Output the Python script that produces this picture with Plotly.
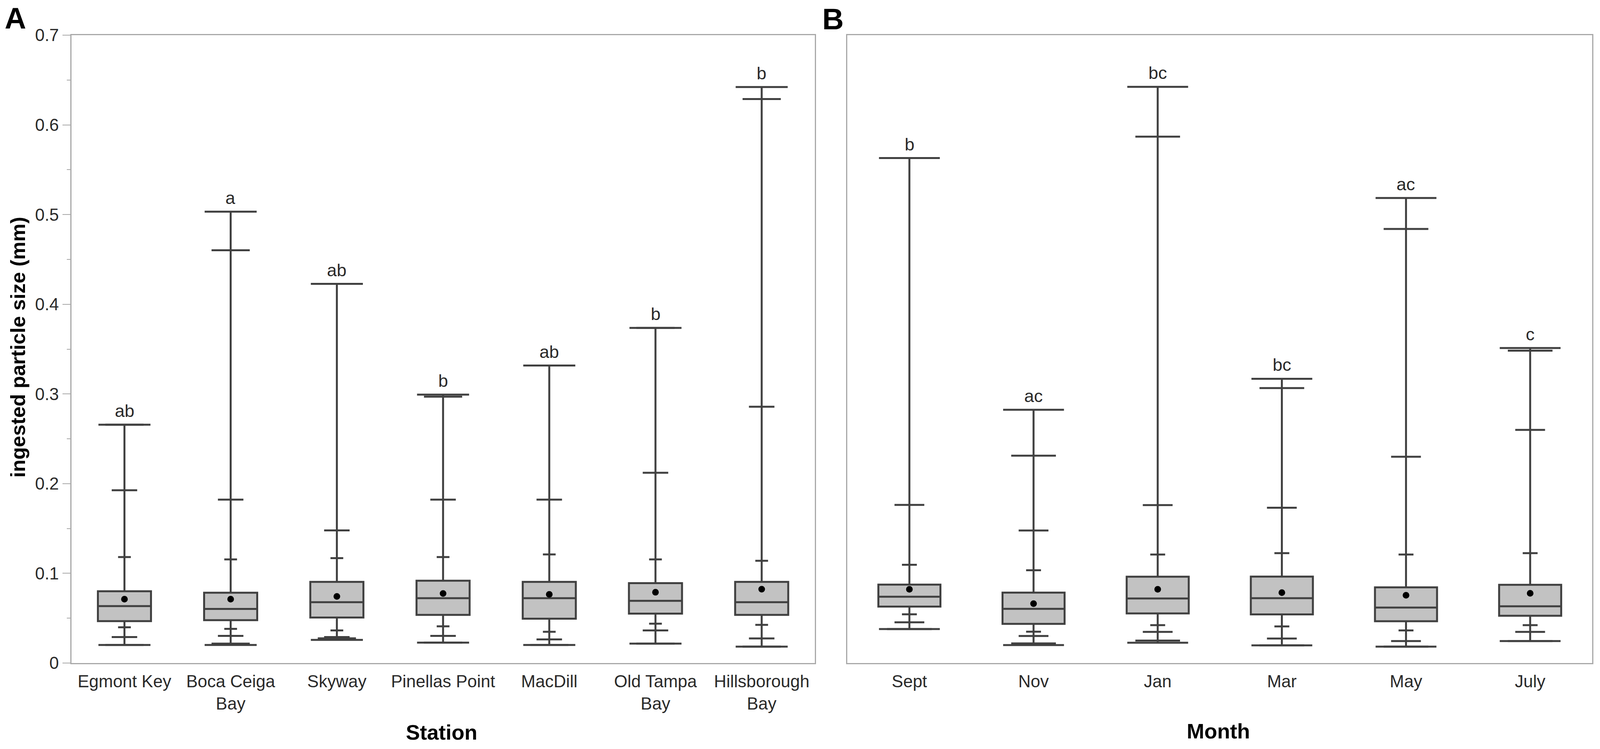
import plotly.graph_objects as go

# ---- data (mm) ----
stations = ['Egmont Key', 'Boca Ceiga<br>Bay', 'Skyway', 'Pinellas Point', 'MacDill',
            'Old Tampa<br>Bay', 'Hillsborough<br>Bay']
st_min = [0.0201, 0.0201, 0.0258, 0.0228, 0.0201, 0.0217, 0.0183]
st_q005 = [0.0201, 0.0217, 0.0275, 0.0228, 0.0201, 0.0217, 0.0183]
st_q025 = [0.0290, 0.0303, 0.0290, 0.0303, 0.0263, 0.0364, 0.0274]
st_q10 = [0.0399, 0.0381, 0.0364, 0.0410, 0.0349, 0.0439, 0.0426]
st_q25 = [0.0467, 0.0478, 0.0507, 0.0537, 0.0494, 0.0551, 0.0537]
st_med = [0.0635, 0.0603, 0.0678, 0.0723, 0.0723, 0.0694, 0.0678]
st_q75 = [0.0800, 0.0784, 0.0905, 0.0918, 0.0905, 0.0891, 0.0905]
st_q90 = [0.1182, 0.1155, 0.1170, 0.1182, 0.1211, 0.1155, 0.1140]
st_q975 = [0.1926, 0.1822, 0.1479, 0.1822, 0.1822, 0.2121, 0.2858]
st_q995 = [0.2657, 0.4602, 0.4227, 0.2970, 0.3317, 0.3736, 0.6288]
st_max = [0.2657, 0.5032, 0.4227, 0.2992, 0.3317, 0.3736, 0.6422]
st_mean = [0.0712, 0.0712, 0.0743, 0.0775, 0.0766, 0.0789, 0.0823]
st_letters = ['ab', 'a', 'ab', 'b', 'ab', 'b', 'b']

months = ['Sept', 'Nov', 'Jan', 'Mar', 'May', 'July']
mo_min = [0.0379, 0.0200, 0.0226, 0.0197, 0.0183, 0.0245]
mo_q005 = [0.0379, 0.0219, 0.0250, 0.0197, 0.0183, 0.0245]
mo_q025 = [0.0454, 0.0302, 0.0347, 0.0273, 0.0245, 0.0347]
mo_q10 = [0.0543, 0.0350, 0.0422, 0.0408, 0.0364, 0.0422]
mo_q25 = [0.0629, 0.0437, 0.0553, 0.0542, 0.0466, 0.0527]
mo_med = [0.0739, 0.0604, 0.0720, 0.0723, 0.0618, 0.0633]
mo_q75 = [0.0875, 0.0785, 0.0963, 0.0964, 0.0844, 0.0872]
mo_q90 = [0.1095, 0.1034, 0.1210, 0.1225, 0.1210, 0.1225]
mo_q975 = [0.1763, 0.1478, 0.1761, 0.1732, 0.2300, 0.2599]
mo_q995 = [0.5630, 0.2312, 0.5869, 0.3066, 0.4839, 0.3483]
mo_max = [0.5630, 0.2824, 0.6424, 0.3169, 0.5185, 0.3512]
mo_mean = [0.0822, 0.0662, 0.0822, 0.0785, 0.0756, 0.0778]
mo_letters = ['b', 'ac', 'bc', 'bc', 'ac', 'c']

# reference canvas, used only to turn pixel positions into paper fractions
W, H = 4328, 1917
LINE = '#404040'
AXIS = '#a8a8a8'
TXT = '#2a2a2a'
TICK_FONT = dict(family='Liberation Sans, Arial', size=44, color=TXT)
TITLE_FONT = dict(family='Liberation Sans, Arial', size=54, color='black')

fig = go.Figure()


def add_panel(xa, ya, q_min, q005, q025, q10, q25, med, q75, q90, q975, q995, q_max, mean, letters):
    n = len(med)
    pos = list(range(n))
    # box + whiskers
    fig.add_trace(go.Box(
        x=pos, q1=q25, median=med, q3=q75, lowerfence=q_min, upperfence=q_max,
        width=0.5, whiskerwidth=0, fillcolor='#c2c2c2',
        line=dict(color=LINE, width=5), boxpoints=False, hoverinfo='skip',
        xaxis=xa, yaxis=ya, showlegend=False))
    # quantile caps (full, 3/4, 1/2, 1/4 of box width)
    cx, cy = [], []
    for i in pos:
        for vals, half in ((q_min, 0.245), (q_max, 0.245), (q005, 0.18), (q995, 0.18),
                           (q025, 0.12), (q975, 0.12), (q10, 0.06), (q90, 0.06)):
            cx += [i - half, i + half, None]
            cy += [vals[i], vals[i], None]
    fig.add_trace(go.Scatter(x=cx, y=cy, mode='lines', line=dict(color=LINE, width=5),
                             hoverinfo='skip', xaxis=xa, yaxis=ya, showlegend=False))
    # means
    fig.add_trace(go.Scatter(x=pos, y=mean, mode='markers',
                             marker=dict(color='black', size=17),
                             xaxis=xa, yaxis=ya, showlegend=False))
    # significance letters
    for i in pos:
        fig.add_annotation(x=i, y=q_max[i], xref=xa, yref=ya, text=letters[i],
                           showarrow=False, yanchor='bottom', yshift=8,
                           font=dict(family='Liberation Sans, Arial', size=45, color=TXT))


add_panel('x', 'y', st_min, st_q005, st_q025, st_q10, st_q25, st_med, st_q75, st_q90,
          st_q975, st_q995, st_max, st_mean, st_letters)
add_panel('x2', 'y2', mo_min, mo_q005, mo_q025, mo_q10, mo_q25, mo_med, mo_q75, mo_q90,
          mo_q975, mo_q995, mo_max, mo_mean, mo_letters)

ydom = [(H - 1697) / H, (H - 90) / H]
common_x = dict(showline=True, linecolor=AXIS, linewidth=3, mirror=True, showgrid=False,
                zeroline=False, ticks='', tickfont=TICK_FONT, ticklabelstandoff=6)

fig.update_layout(
    autosize=True,
    margin=dict(l=0, r=0, t=0, b=0),
    paper_bgcolor='white', plot_bgcolor='white',
    showlegend=False,
    xaxis=dict(domain=[193 / W, 2204 / W], range=[-0.5, len(stations) - 0.5],
               tickvals=list(range(len(stations))), ticktext=stations,
               anchor='y', automargin=False, **common_x),
    xaxis2=dict(domain=[2292 / W, 4307 / W], range=[-0.5, len(months) - 0.5],
                tickvals=list(range(len(months))), ticktext=months,
                anchor='y2', automargin=False, **common_x),
    yaxis=dict(domain=ydom, range=[0, 0.7], dtick=0.1, tick0=0, showline=True,
               linecolor=AXIS, linewidth=3, mirror=True, showgrid=False, zeroline=False,
               ticks='outside', ticklen=20, tickwidth=2, tickcolor=AXIS,
               minor=dict(dtick=0.05, ticks='outside', ticklen=9, tickwidth=2, tickcolor=AXIS),
               tickfont=TICK_FONT, anchor='x', automargin=False),
    yaxis2=dict(domain=ydom, range=[0, 0.7], showline=True, linecolor=AXIS, linewidth=3,
                mirror=True, showgrid=False, zeroline=False, ticks='', showticklabels=False,
                anchor='x2', automargin=False),
)

# axis titles and panel letters
fig.add_annotation(x=49 / W, y=(H - 888) / H, xref='paper', yref='paper', showarrow=False,
                   xanchor='center', yanchor='middle',
                   text='<b>ingested particle size (mm)</b>', textangle=-90,
                   font=dict(TITLE_FONT, size=52))
fig.add_annotation(x=1195 / W, y=(H - 1874) / H, xref='paper', yref='paper', showarrow=False,
                   xanchor='center', yanchor='middle', text='<b>Station</b>', font=TITLE_FONT)
fig.add_annotation(x=3296 / W, y=(H - 1871) / H, xref='paper', yref='paper', showarrow=False,
                   xanchor='center', yanchor='middle', text='<b>Month</b>', font=TITLE_FONT)
fig.add_annotation(x=42 / W, y=(H - 46) / H, xref='paper', yref='paper', showarrow=False,
                   xanchor='center', yanchor='middle',
                   text='<b>A</b>', font=dict(family='Liberation Sans, Arial', size=76, color='black'))
fig.add_annotation(x=2253 / W, y=(H - 48) / H, xref='paper', yref='paper', showarrow=False,
                   xanchor='center', yanchor='middle',
                   text='<b>B</b>', font=dict(family='Liberation Sans, Arial', size=76, color='black'))

# fill whatever window the page is opened in
fit = ("document.documentElement.style.margin='0';document.body.style.margin='0';"
       "document.body.style.overflow='hidden';"
       "Plotly.Plots.resize(document.getElementById('{plot_id}'));")
fig.write_html("out.html", default_width='100vw', default_height='100vh',
               config={'responsive': True, 'displayModeBar': False}, post_script=fit)
